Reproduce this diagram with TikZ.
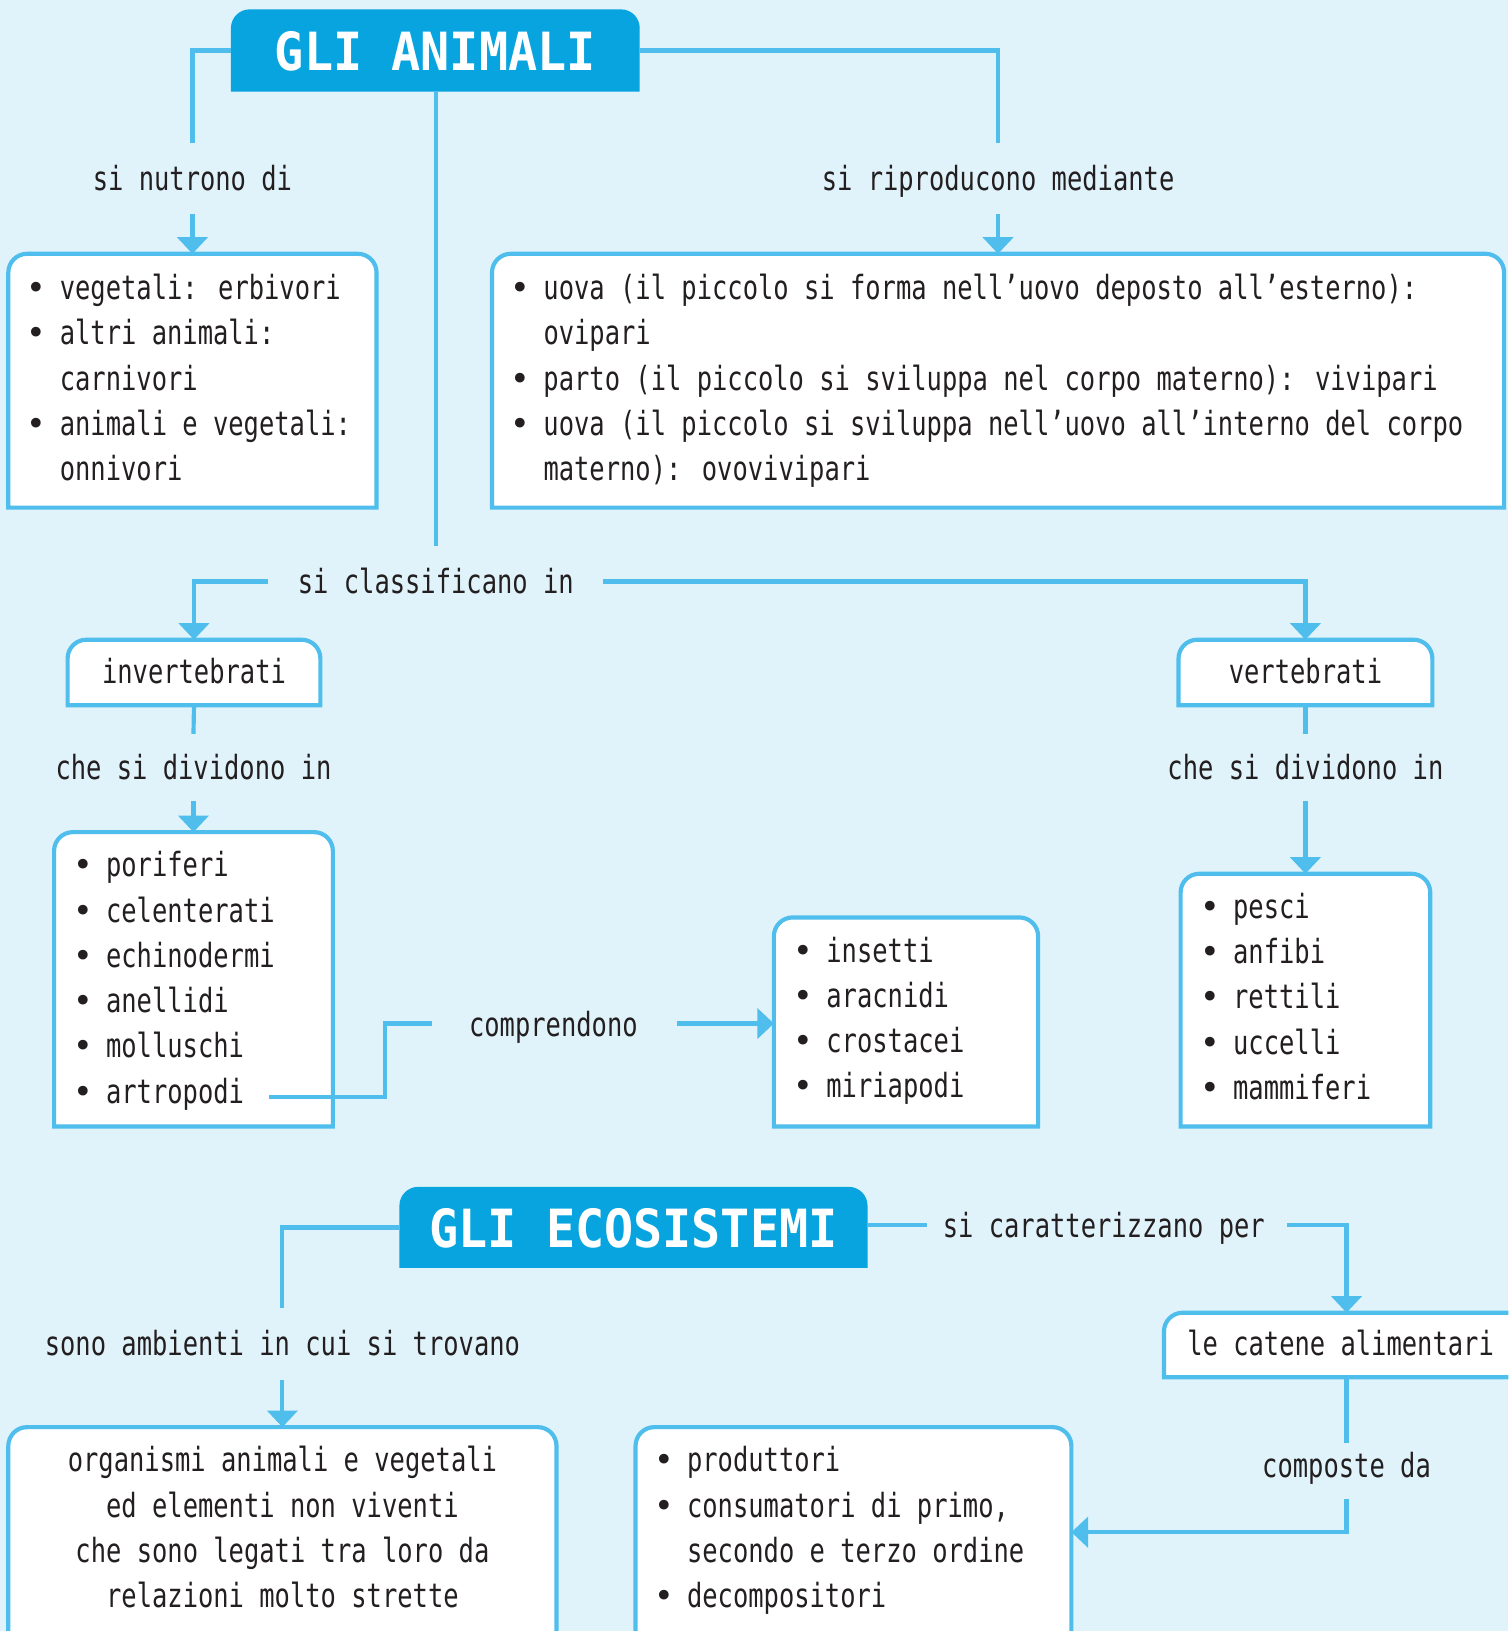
\documentclass[tikz,border=0pt]{standalone}
\usepackage{fontspec}
\usetikzlibrary{arrows.meta,fit}
\newfontfamily\mono[FakeStretch=0.765]{DejaVu Sans Mono}
\newfontfamily\titlemono[FakeStretch=0.92]{DejaVu Sans Mono}
\newfontfamily\bulfont{DejaVu Sans}
\definecolor{bg}{HTML}{E0F3FB}
\definecolor{lineblue}{HTML}{4FBEEC}
\definecolor{titleblue}{HTML}{07A4DF}
\definecolor{ink}{HTML}{231F20}
\newcommand\bul{\makebox[14.74pt][l]{\makebox[7.37pt][c]{\bulfont •}}}
\newcommand\rbox[7]{%
  \node[inner sep=0pt,outer sep=0pt,fit={(#2,#3)(#4,#5)}] (#1) {};
  \draw[#6] (#1.south west) -- ([yshift=-#7]#1.north west)
     arc[start angle=180,end angle=90,radius=#7]
     -- ([xshift=-#7]#1.north east)
     arc[start angle=90,end angle=0,radius=#7]
     -- (#1.south east) -- cycle;}
\begin{document}
\begin{tikzpicture}[x=0.5pt,y=-0.5pt,
  conn/.style={draw=lineblue,line width=2pt},
  arr/.style={conn,-{Triangle[width=14.5pt,length=8pt]}},
  boxline/.style={draw=lineblue,line width=2pt,fill=white},
  titlebox/.style={fill=titleblue,draw=none},
  txt/.style={font=\mono\fontsize{16}{21.75}\selectfont,text=ink,inner sep=0pt,anchor=base west,text height=12.5pt,text depth=0.5pt},
  lbl/.style={txt,anchor=base},
  ttl/.style={font=\titlemono\bfseries\fontsize{25.3}{30}\selectfont,text=white,inner sep=0pt,anchor=base}]
\useasboundingbox[fill=bg] (0,0) rectangle (1450,1568);
\clip (0,0) rectangle (1450,1568);

% ---------- GLI ANIMALI ----------
\rbox{gab}{222}{9}{615}{88}{titlebox}{9pt}
\node[ttl] (ga) at (418.5,67.5) {GLI ANIMALI};

\node[lbl] (sn) at (185,183) {si nutrono di};
\node[lbl] (sr) at (959.5,183) {si riproducono mediante};

\rbox{b1}{8}{244}{362}{488}{boxline}{9pt}
\node[txt] (b1a) at (27.6,288) {\bul vegetali: erbivori};
\node[txt] (b1b) at (27.6,331.5) {\bul altri animali:};
\node[txt] (b1c) at (57.1,375) {carnivori};
\node[txt] (b1d) at (27.6,418.5) {\bul animali e vegetali:};
\node[txt] (b1e) at (57.1,462) {onnivori};

\rbox{b2}{473}{244}{1446}{488}{boxline}{9pt}
\node[txt] (b2a) at (492.6,288) {\bul uova (il piccolo si forma nell’uovo deposto all’esterno):};
\node[txt] (b2b) at (522.1,331.5) {ovipari};
\node[txt] (b2c) at (492.6,375) {\bul parto (il piccolo si sviluppa nel corpo materno): vivipari};
\node[txt] (b2d) at (492.6,418.5) {\bul uova (il piccolo si sviluppa nell’uovo all’interno del corpo};
\node[txt] (b2e) at (522.1,462) {materno): ovovivipari};

\draw[conn] (gab.west) -| ([yshift=10pt]sn.north);
\draw[conn] (gab.east) -| ([yshift=10pt]sr.north);
\draw[arr] ([yshift=-10.5pt]sn.south) -- (b1.north);
\draw[arr] ([yshift=-10.5pt]sr.south) -- (b2.north);

% classificazione
\node[lbl] (sc) at (419,571) {si classificano in};
\draw[conn] (gab.south -| sc.north) -- ([yshift=10.5pt]sc.north);

\rbox{inv}{65}{615}{308}{678}{boxline}{9pt}
\node[lbl] (invt) at (186.5,657.5) {invertebrati};
\rbox{ver}{1133}{615}{1377}{678}{boxline}{9pt}
\node[lbl] (vert) at (1255,657.5) {vertebrati};

\draw[arr] ([xshift=-14pt]sc.west) -| (inv.north);
\draw[arr] ([xshift=14pt]sc.east) -| (ver.north);

\node[lbl] (cd1) at (186,749) {che si dividono in};
\node[lbl] (cd2) at (1255,749) {che si dividono in};
\draw[conn] (inv.south) -- ([yshift=9pt]cd1.north);
\draw[conn] (ver.south) -- ([yshift=9pt]cd2.north);

\rbox{il}{52}{800}{320}{1083}{boxline}{9pt}
\node[txt] (ila) at (72.1,843) {\bul poriferi};
\node[txt] (ilb) at (72.1,886.5) {\bul celenterati};
\node[txt] (ilc) at (72.1,930) {\bul echinodermi};
\node[txt] (ild) at (72.1,973.5) {\bul anellidi};
\node[txt] (ile) at (72.1,1017) {\bul molluschi};
\node[txt] (art) at (72.1,1060.5) {\bul artropodi};

\rbox{vl}{1135}{840}{1375}{1083}{boxline}{9pt}
\node[txt] (vla) at (1155.6,883) {\bul pesci};
\node[txt] (vlb) at (1155.6,926.5) {\bul anfibi};
\node[txt] (vlc) at (1155.6,970) {\bul rettili};
\node[txt] (vld) at (1155.6,1013.5) {\bul uccelli};
\node[txt] (vle) at (1155.6,1057) {\bul mammiferi};

\draw[arr] ([yshift=-10pt]cd1.south) -- (il.north);
\draw[arr] ([yshift=-10pt]cd2.south) -- (vl.north);

\rbox{ins}{744}{882}{998}{1083}{boxline}{9pt}
\node[txt] (insa) at (764.6,925) {\bul insetti};
\node[txt] (insb) at (764.6,968.5) {\bul aracnidi};
\node[txt] (insc) at (764.6,1012) {\bul crostacei};
\node[txt] (insd) at (764.6,1055.5) {\bul miriapodi};

\node[lbl] (comp) at (532,996) {comprendono};
\draw[conn] ([xshift=12pt,yshift=-3pt]art.east) -- ++(55.5pt,0) |- ([xshift=-17.5pt]comp.west);
\draw[arr] ([xshift=18.5pt]comp.east) -- (ins.west |- comp.east);

% ---------- GLI ECOSISTEMI ----------
\rbox{geb}{384}{1141}{834}{1219}{titlebox}{9pt}
\node[ttl] (ge) at (609,1199.5) {GLI ECOSISTEMI};

\node[lbl] (sa) at (271.5,1303) {sono ambienti in cui si trovano};
\draw[conn] (geb.west) -| ([yshift=10pt]sa.north);

\rbox{org}{8}{1372}{535}{1574}{boxline}{9pt}
\node[lbl] (orga) at (271.5,1415) {organismi animali e vegetali};
\node[lbl] (orgb) at (271.5,1458.5) {ed elementi non viventi};
\node[lbl] (orgc) at (271.5,1502) {che sono legati tra loro da};
\node[lbl] (orgd) at (271.5,1545.5) {relazioni molto strette};
\draw[arr] ([yshift=-11pt]sa.south) -- (org.north);

\node[txt] (cp) at (906,1190) {si caratterizzano per};
\draw[conn] (geb.east |- cp.west) -- ([xshift=-7.5pt]cp.west);

\rbox{cat}{1119}{1262}{1470}{1324}{boxline}{9pt}
\node[txt] (catt) at (1141,1303) {le catene alimentari};
\draw[arr] ([xshift=10.5pt]cp.east) -| (cat.south |- cat.north);

\node[lbl] (cd) at (1294.5,1420) {composte da};
\draw[conn] (cat.south) -- ([yshift=3.5pt]cd.north);

\rbox{prod}{611}{1372}{1030}{1574}{boxline}{9pt}
\node[txt] (pra) at (630.6,1415) {\bul produttori};
\node[txt] (prb) at (630.6,1458.5) {\bul consumatori di primo,};
\node[txt] (prc) at (660.1,1502) {secondo e terzo ordine};
\node[txt] (prd) at (630.6,1545.5) {\bul decompositori};
\draw[arr] ([yshift=-10pt]cd.south) |- (prod.east);
\end{tikzpicture}
\end{document}
